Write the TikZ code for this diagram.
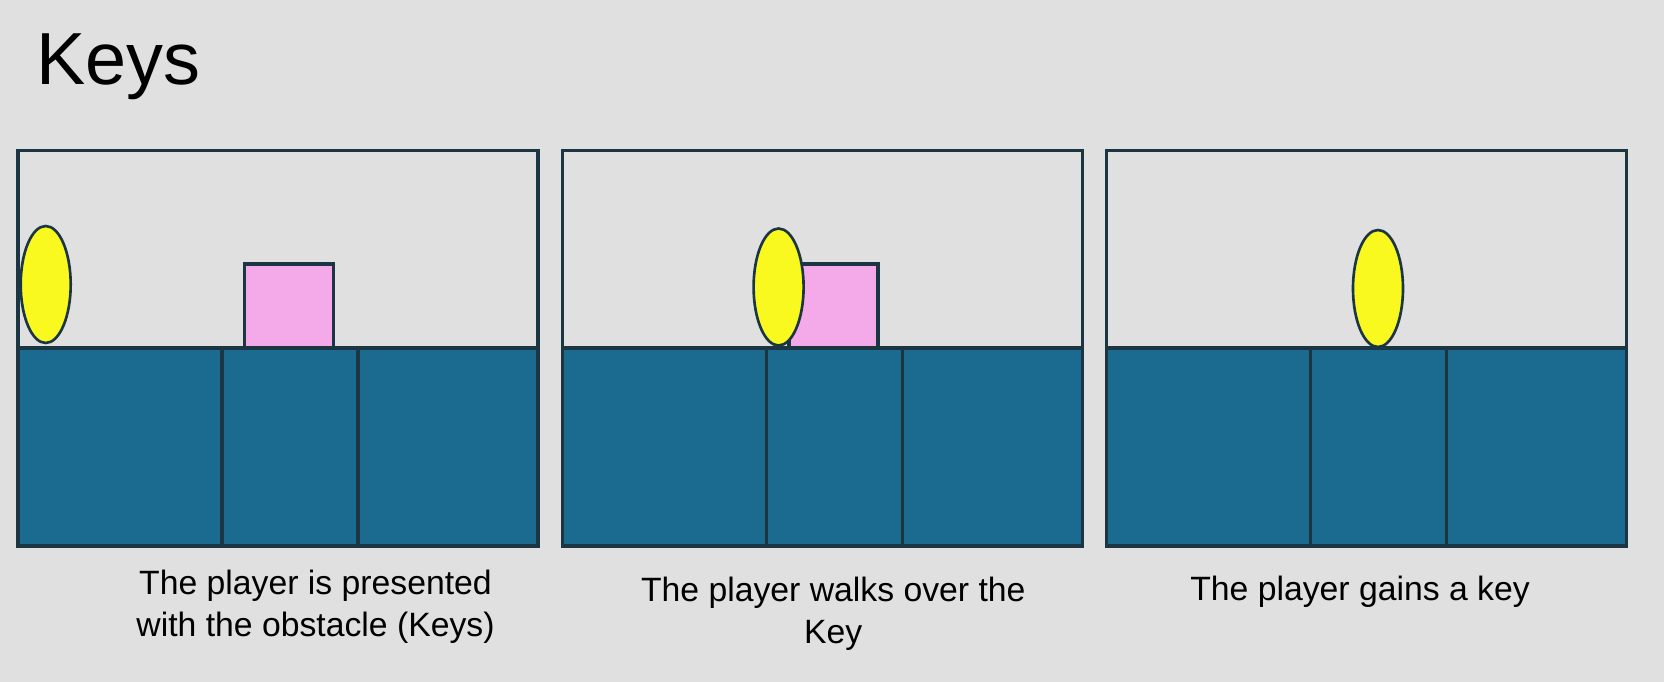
\documentclass[tikz,border=0pt]{standalone}
\usepackage{fontspec}
\setmainfont{Liberation Sans}
\usepackage{tikz}
\definecolor{slide}{HTML}{E0E0E0}
\definecolor{ground}{HTML}{1B6A8F}
\definecolor{outline}{HTML}{1B3543}
\definecolor{player}{HTML}{F9F920}
\definecolor{block}{HTML}{F4A9E8}

\begin{document}
\begin{tikzpicture}[x=0.02cm,y=-0.02cm,
        edge/.style={draw=outline,line width=1.9pt},
        caption/.style={inner sep=0pt,anchor=base,align=center,font=\fontsize{19.2}{23.8}\selectfont}]
        \fill[slide] (0,0) rectangle (1664,682);
        \useasboundingbox (0,0) rectangle (1664,682);
        \node[inner sep=0pt,anchor=base west,font=\fontsize{42}{50}\selectfont] (title) at (36,85) {Keys};
        \foreach \ox in {18,562.3,1106.6}
        {
        \fill[ground] (\ox,348) rectangle ++(520,198);
        \draw[edge] (\ox,348) -- ++(520,0);
        \draw[edge] (\ox+204,348) -- (\ox+204,546);
        \draw[edge] (\ox+340,348) -- (\ox+340,546);
        \draw[edge] (\ox,150.7) rectangle (\ox+520,546);
        }
        \foreach \ox in {18,562.3}
        \draw[edge,fill=block] (\ox+226.8,348) rectangle ++(89,-84);
        \foreach \cx/\cy in {45.7/284.5, 778.6/287, 1378/288.5}
        \draw[edge,line width=1.5pt,fill=player] (\cx,\cy) ellipse (0.5cm and 1.17cm);
        \node[caption] (presented) at (315.5,636.7) {The player is presented\\with the obstacle (Keys)};
        \node[caption] (walks) at (833.3,643.3) {The player walks over the\\Key};
        \node[caption] (gains) at (1360,600) {The player gains a key};
\end{tikzpicture}
\end{document}
